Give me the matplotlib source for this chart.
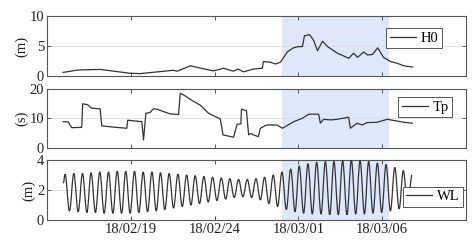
import matplotlib
matplotlib.use("Agg")
import matplotlib.pyplot as plt
import matplotlib.dates as mdates
from matplotlib.path import Path
from matplotlib.patches import PathPatch
import pandas as pd

plt.rcParams['font.family'] = ['Liberation Serif', 'DejaVu Serif']

base = pd.Timestamp('2018-02-14')

# H0 (m): day offset from base, value
h0_days = [0.96, 1.85, 3.17, 4.96, 5.56, 7.53, 7.77, 8.55, 9.92, 10.22, 10.52, 11.12,
           11.4, 11.72, 12.31, 12.85, 12.91, 13.33, 13.63, 13.93, 14.35, 14.71, 15.0,
           15.24, 15.36, 15.66, 15.9, 16.14, 16.44, 16.74, 17.33, 17.81, 18.0, 18.3,
           18.53, 18.89, 19.13, 19.43, 19.73, 20.08, 20.5, 20.92, 21.28, 21.82]
h0_vals = [0.6, 1.0, 1.1, 0.45, 0.4, 0.95, 0.8, 1.7, 0.85, 1.05, 1.3, 0.8,
           1.15, 0.7, 1.15, 1.3, 2.4, 2.3, 2.0, 2.3, 4.05, 4.7, 4.9,
           4.9, 6.7, 6.9, 6.0, 4.2, 5.8, 4.9, 3.8, 3.2, 2.95, 3.8,
           3.1, 4.0, 3.5, 3.6, 4.7, 3.1, 2.4, 2.1, 1.7, 1.5]

# Tp (s)
tp_days = [0.97, 1.27, 1.47, 2.07, 2.13, 2.41, 2.67, 3.17, 3.27, 3.94, 4.76, 4.82,
           5.66, 5.76, 5.90, 6.15, 6.35, 6.55, 7.35, 7.85, 7.95, 8.25, 8.65, 9.15,
           9.64, 10.34, 10.50, 11.13, 11.34, 11.57, 11.60, 11.90, 12.03, 12.17, 12.31,
           12.61, 12.73, 13.03, 13.13, 13.17, 13.36, 13.72, 14.05, 14.72, 15.22, 15.62,
           16.21, 16.31, 16.51, 16.91, 17.31, 18.0, 18.1, 18.5, 18.8, 19.1, 19.7,
           20.3, 20.7, 21.3, 21.8]
tp_vals = [8.9, 8.8, 6.9, 7.0, 14.9, 14.6, 13.4, 13.2, 7.5, 7.1, 6.7, 9.4,
           8.9, 2.8, 11.7, 12.0, 13.2, 13.1, 11.5, 11.3, 18.4, 17.5, 16.0, 14.4,
           11.7, 9.8, 4.5, 3.7, 8.0, 8.2, 13.1, 12.6, 4.5, 5.0, 4.5,
           3.9, 6.7, 7.6, 7.8, 7.8, 7.8, 7.8, 6.7, 8.9, 10.0, 11.4,
           11.4, 8.4, 9.7, 9.5, 9.7, 10.4, 6.7, 8.4, 7.8, 8.6, 8.7,
           9.7, 9.3, 8.7, 8.4]

# WL (m): successive high / low waters
wl_days = [0.97, 1.08, 1.34, 1.60, 1.86, 2.12, 2.38, 2.63, 2.89, 3.15, 3.41, 3.67, 3.93,
           4.19, 4.45, 4.70, 4.96, 5.22, 5.48, 5.74, 6.00, 6.26, 6.52, 6.77, 7.03,
           7.29, 7.55, 7.81, 8.07, 8.33, 8.59, 8.84, 9.10, 9.36, 9.62, 9.88, 10.14,
           10.40, 10.66, 10.91, 11.17, 11.43, 11.69, 11.95, 12.21, 12.47, 12.73, 12.98,
           13.24, 13.50, 13.76, 14.02, 14.28, 14.54, 14.80, 15.05, 15.31, 15.57, 15.83,
           16.09, 16.35, 16.61, 16.87, 17.12, 17.38, 17.64, 17.90, 18.16, 18.42, 18.68,
           18.94, 19.19, 19.45, 19.71, 19.97, 20.23, 20.49, 20.75, 21.01, 21.26, 21.52,
           21.78]
wl_vals = [2.45, 3.05, 0.6, 3.1, 0.55, 3.1, 0.5, 3.15, 0.5, 3.2, 0.45, 3.2, 0.45,
           3.25, 0.45, 3.25, 0.45, 3.25, 0.5, 3.2, 0.55, 3.2, 0.6, 3.15, 0.7,
           3.1, 0.8, 3.05, 0.9, 3.0, 1.0, 2.95, 1.1, 2.9, 1.2, 2.85, 1.3,
           2.8, 1.4, 2.75, 1.5, 2.7, 1.55, 2.7, 1.5, 2.75, 1.35, 2.85,
           1.1, 3.0, 0.9, 3.2, 0.7, 3.4, 0.55, 3.6, 0.45, 3.75, 0.4,
           3.85, 0.4, 3.9, 0.35, 3.9, 0.35, 3.95, 0.35, 4.0, 0.4, 3.95,
           0.4, 3.9, 0.45, 3.8, 0.5, 3.7, 0.6, 3.5, 0.75, 3.3, 0.9,
           3.0]

shade_start, shade_end = 14.05, 20.4
xlim_days = (0, 25)
xtick_days = [5, 10, 15, 20]
xtick_labels = ['18/02/19', '18/02/24', '18/03/01', '18/03/06']

panels = [
    dict(d=h0_days, v=h0_vals, name='H0', ylab='(m)', ylim=(0, 10), yt=[0, 5, 10],
         loc='upper right', anchor=(0.943, 0.80), smooth=False),
    dict(d=tp_days, v=tp_vals, name='Tp', ylab='(s)', ylim=(0, 20), yt=[0, 10, 20],
         loc='upper right', anchor=(0.967, 0.86), smooth=False),
    dict(d=wl_days, v=wl_vals, name='WL', ylab='(m)', ylim=(0, 4), yt=[0, 2, 4],
         loc='lower right', anchor=(0.993, 0.215), smooth=True),
]

W, H = 474, 243
fig = plt.figure(figsize=(W / 100, H / 100), dpi=100)
rects = [(47, 16, 76), (47, 88.5, 148.3), (47, 160, 220)]
spine_c = '#555555'
line_c = '#333333'
to_t = lambda ds: [base + pd.Timedelta(days=x) for x in ds]


def smooth_path(ts, vs):
    xs = mdates.date2num(ts)
    verts = [(xs[0], vs[0])]
    codes = [Path.MOVETO]
    for i in range(len(xs) - 1):
        dt = xs[i + 1] - xs[i]
        verts += [(xs[i] + 0.364 * dt, vs[i]), (xs[i + 1] - 0.364 * dt, vs[i + 1]),
                  (xs[i + 1], vs[i + 1])]
        codes += [Path.CURVE4] * 3
    return Path(verts, codes)


for p, (l, top, bot) in zip(panels, rects):
    ax = fig.add_axes([l / W, (H - bot) / H, (466 - l) / W, (bot - top) / H])
    ax.axvspan(base + pd.Timedelta(days=shade_start), base + pd.Timedelta(days=shade_end),
               color='#dde9fa', lw=0, zorder=0)
    if p['smooth']:
        ax.add_patch(PathPatch(smooth_path(to_t(p['d']), p['v']), fill=False,
                               edgecolor=line_c, lw=0.9, zorder=3))
        ax.plot([], [], color=line_c, lw=0.9, label=p['name'])
    else:
        ax.plot(to_t(p['d']), p['v'], color=line_c, lw=0.9, label=p['name'], zorder=3)
    ax.set_xlim(base + pd.Timedelta(days=xlim_days[0]), base + pd.Timedelta(days=xlim_days[1]))
    ax.set_xticks(to_t(xtick_days))
    ax.set_ylim(*p['ylim'])
    ax.set_yticks(p['yt'])
    ax.grid(axis='y', color='#dddddd', lw=0.6, zorder=1)
    ax.set_axisbelow(True)
    for s in ax.spines.values():
        s.set_color(spine_c)
        s.set_linewidth(0.8)
    ax.tick_params(direction='in', top=True, right=True, length=3, width=0.7,
                   color=spine_c, labelsize=10.5, labelcolor='#222222', pad=2)
    if p['name'] == 'WL':
        ax.set_xticklabels(xtick_labels)
    else:
        ax.set_xticklabels([])
    ax.set_ylabel(p['ylab'], fontsize=10.5, color='#222222', labelpad=1)
    leg = ax.legend(loc=p['loc'], bbox_to_anchor=p['anchor'], fancybox=False,
                    edgecolor='#555555', framealpha=1, fontsize=10.5, handlelength=1.8,
                    borderpad=0.25, handletextpad=0.3, borderaxespad=0)
    leg.get_frame().set_linewidth(0.7)

fig.savefig('out.png', dpi=100)
